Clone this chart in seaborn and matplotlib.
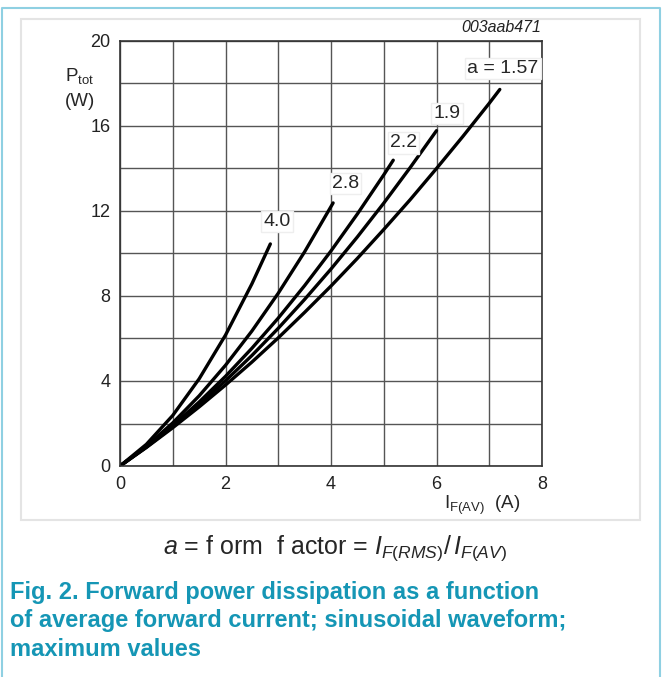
import pandas as pd
import seaborn as sns
import matplotlib.pyplot as plt
from matplotlib.lines import Line2D
from matplotlib.patches import Rectangle

# values (P_tot in W vs I_F(AV) in A)
curve_a157_x = [0, 0.5, 1, 1.5, 2, 2.5, 3, 3.5, 4, 4.5, 5, 5.5, 6, 6.5, 7, 7.2]
curve_a157_y = [0, 0.87, 1.80, 2.78, 3.81, 4.89, 6.03, 7.23, 8.47, 9.77, 11.13, 12.53, 14.0, 15.51, 17.07, 17.72]
curve_a19_x = [0, 0.5, 1, 1.5, 2, 2.5, 3, 3.5, 4, 4.5, 5, 5.5, 6]
curve_a19_y = [0, 0.89, 1.85, 2.89, 4.01, 5.20, 6.48, 7.84, 9.27, 10.78, 12.37, 14.04, 15.78]
curve_a22_x = [0, 0.5, 1, 1.5, 2, 2.5, 3, 3.5, 4, 4.5, 5, 5.18]
curve_a22_y = [0, 0.90, 1.90, 3.01, 4.22, 5.54, 6.96, 8.49, 10.12, 11.86, 13.70, 14.39]
curve_a28_x = [0, 0.5, 1, 1.5, 2, 2.5, 3, 3.5, 4.04]
curve_a28_y = [0, 0.93, 2.03, 3.30, 4.74, 6.35, 8.13, 10.08, 12.38]
curve_a40_x = [0, 0.5, 1, 1.5, 2, 2.5, 2.85]
curve_a40_y = [0, 1.02, 2.38, 4.10, 6.16, 8.57, 10.45]

labels = ["a = 1.57", "1.9", "2.2", "2.8", "4.0"]
label_x = [7.26, 6.2, 5.37, 4.27, 2.98]
label_y = [18.7, 16.6, 15.2, 13.3, 11.5]

x_ticks = [0, 2, 4, 6, 8]
y_ticks = [0, 4, 8, 12, 16, 20]

caption = ("Fig. 2. Forward power dissipation as a function\n"
           "of average forward current; sinusoidal waveform;\n"
           "maximum values")

sns.set_style("white")
plt.rcParams['font.family'] = ['Liberation Sans', 'DejaVu Sans']
plt.rcParams['mathtext.fontset'] = 'custom'
plt.rcParams['mathtext.rm'] = 'Liberation Sans'
plt.rcParams['mathtext.it'] = 'Liberation Sans:italic'

frames = []
for a, xs, ys in [("1.57", curve_a157_x, curve_a157_y), ("1.9", curve_a19_x, curve_a19_y),
                  ("2.2", curve_a22_x, curve_a22_y), ("2.8", curve_a28_x, curve_a28_y),
                  ("4.0", curve_a40_x, curve_a40_y)]:
    frames.append(pd.DataFrame({"I": xs, "P": ys, "a": a}))
df = pd.concat(frames, ignore_index=True)

fig = plt.figure(figsize=(6.62, 6.77), dpi=100)
W, H = 662, 677

# outer blue frame (open at the bottom) and light panel border
fx = [1.5 / W, 1.5 / W, 659.5 / W, 659.5 / W]
fy = [0, 1 - 8 / H, 1 - 8 / H, 0]
fig.lines.append(Line2D(fx, fy, transform=fig.transFigure, color="#8fd0e2", lw=1.5))
fig.patches.append(Rectangle((21 / W, 1 - 520 / H), 619 / W, 501 / H, transform=fig.transFigure,
                             fill=False, edgecolor="#e4e4e4", lw=1.5))

ax = fig.add_axes([120 / W, 1 - 466 / H, 422 / W, 425 / H])
sns.lineplot(data=df, x="I", y="P", hue="a", units="a", estimator=None, sort=False,
             palette=["black"] * 5, lw=2.4, legend=False, ax=ax)

ax.set_xlim(0, 8)
ax.set_ylim(0, 20)
ax.set_xticks(range(0, 9))
ax.set_yticks(range(0, 21, 2))
ax.set_xticklabels([str(v) if v in x_ticks else "" for v in range(0, 9)])
ax.set_yticklabels([str(v) if v in y_ticks else "" for v in range(0, 21, 2)])
ax.tick_params(length=0, labelsize=13, colors="#222222", pad=7)
ax.grid(True, color="#555555", lw=1)
for s in ax.spines.values():
    s.set_color("#333333")
    s.set_linewidth(1.2)
ax.set_xlabel("")
ax.set_ylabel("")

for t, x, y in zip(labels, label_x, label_y):
    ax.text(x, y, t, ha="center", va="center", fontsize=14,
            bbox=dict(facecolor="white", edgecolor="#eeeeee", pad=1.5))

fig.text(80 / W, 1 - 76 / H, r"P$_{\rm tot}$", ha="center", va="center", fontsize=13.5)
fig.text(80 / W, 1 - 101 / H, "(W)", ha="center", va="center", fontsize=13.5)
fig.text(482 / W, 1 - 505 / H, r"I$_{\rm F(AV)}$  (A)", ha="center", va="center", fontsize=13.5)
fig.text(541 / W, 1 - 28 / H, "003aab471", ha="right", va="center", fontsize=11.5,
         style="italic", color="#222222")
fig.text(335 / W, 1 - 548 / H, r"$a$ = f orm  f actor = $I_{F(RMS)}/\,I_{F(AV)}$",
         ha="center", va="center", fontsize=18)
fig.text(10 / W, 1 - 581 / H, caption, ha="left", va="top", fontsize=17,
         fontweight="bold", color="#1596b5", linespacing=1.3)

fig.savefig("out.png", dpi=100)
